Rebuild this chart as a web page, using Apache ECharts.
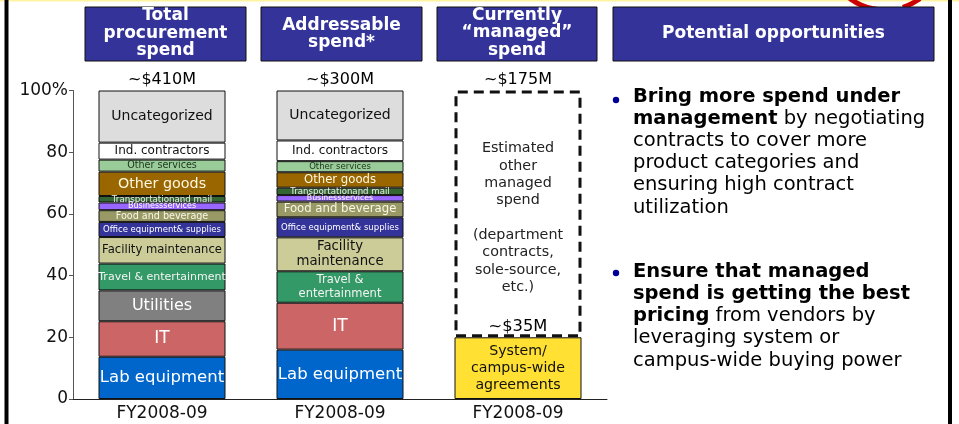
<!DOCTYPE html>
<html>
<head>
<meta charset="utf-8">
<script src="https://cdn.jsdelivr.net/npm/echarts@6/dist/echarts.min.js"></script>
<style>
  html, body { margin: 0; padding: 0; background: #fff; }
  #chart { width: 959px; height: 424px; }
</style>
</head>
<body>
<div id="chart"></div>
<script>
  // categories (one bar each) and the label under every bar
  const categories = ['Total procurement spend', 'Addressable spend*', 'Currently “managed” spend'];
  const yearLabels = ['FY2008-09', 'FY2008-09', 'FY2008-09'];
  const totals = ['~$410M', '~$300M', '~$175M'];

  // spend segments, bottom to top, in % of each bar
  const segNames = ['Lab equipment', 'IT', 'Utilities', 'Travel & entertainment', 'Facility maintenance',
    'Office equipment& supplies', 'Food and beverage', 'Businessservices', 'Transportationand mail',
    'Other goods', 'Other services', 'Ind. contractors', 'Uncategorized'];
  const totalSpend = [13.7, 11.5, 10.0, 8.7, 8.6, 4.9, 3.8, 2.5, 2.1, 7.9, 3.9, 5.5, 16.9];
  const addressableSpend = [16.0, 15.2, null, 10.2, 11.0, 6.5, 5.1, 2.1, 2.4, 5.0, 3.6, 6.7, 16.2];

  // managed bar
  const managedNames = ['System/\ncampus-wide\nagreements', 'Estimated\nother\nmanaged\nspend\n\n(department\ncontracts,\nsole-source,\netc.)'];
  const managedSpend = [20, 80];
  const managedAgreementsLabel = '~$35M';

  const yTicks = [0, 20, 40, 60, 80, 100];

  // look of each segment: fill, label colour, label size in bar 1 / bar 2
  const segStyle = {
    'Lab equipment': { fill: '#0066cc', ink: '#ffffff', size: [16.5, 16.5] },
    'IT': { fill: '#cc6666', ink: '#ffffff', size: [17, 17] },
    'Utilities': { fill: '#808080', ink: '#ffffff', size: [16, 16] },
    'Travel & entertainment': { fill: '#339966', ink: '#f4f4f4', size: [11, 11.5], text2: 'Travel &\nentertainment' },
    'Facility maintenance': { fill: '#cccc99', ink: '#111111', size: [11.6, 13.3], text2: 'Facility\nmaintenance' },
    'Office equipment& supplies': { fill: '#333399', ink: '#ffffff', size: [8.5, 8.5] },
    'Food and beverage': { fill: '#999966', ink: '#f8f8e8', size: [9.6, 11.7] },
    'Businessservices': { fill: '#9966ff', ink: '#ffffff', size: [8, 7.8] },
    'Transportationand mail': { fill: '#336633', ink: '#eeeeee', size: [8.7, 8.6] },
    'Other goods': { fill: '#996600', ink: '#fff8e0', size: [14.3, 11.7] },
    'Other services': { fill: '#99cc99', ink: '#203820', size: [9.6, 8.5] },
    'Ind. contractors': { fill: '#ffffff', ink: '#111111', size: [12, 12.2] },
    'Uncategorized': { fill: '#dddddd', ink: '#111111', size: [14, 14] }
  };

  const FONT = 'DejaVu Sans, Verdana, sans-serif';
  const chart = echarts.init(document.getElementById('chart'), null, { renderer: 'canvas' });

  const cell = (v, i, s, name) => {
    if (v == null) return '-';
    return {
      value: v,
      label: {
        show: true,
        position: 'inside',
        formatter: i === 1 && s.text2 ? s.text2 : name,
        color: s.ink,
        fontSize: s.size[i],
        lineHeight: s.size[i] * 1.15,
        fontFamily: FONT
      }
    };
  };

  const series = segNames.map((name, k) => {
    const s = segStyle[name];
    return {
      name: name,
      type: 'bar',
      stack: 'spend',
      barWidth: 127,
      itemStyle: { color: s.fill, borderColor: '#111', borderWidth: 1 },
      data: [cell(totalSpend[k], 0, s, name), cell(addressableSpend[k], 1, s, name), '-']
    };
  });

  series.push({
    name: 'System/campus-wide agreements',
    type: 'bar',
    stack: 'spend',
    barWidth: 127,
    itemStyle: { color: '#ffe033', borderColor: '#111', borderWidth: 1 },
    label: { show: true, position: 'inside', formatter: managedNames[0], color: '#111', fontSize: 14.2, lineHeight: 17, fontFamily: FONT },
    data: ['-', '-', managedSpend[0]]
  });
  series.push({
    name: 'Estimated other managed spend',
    type: 'bar',
    stack: 'spend',
    barWidth: 127,
    z: 1,
    itemStyle: { color: 'rgba(255,255,255,0)', borderColor: '#111', borderWidth: 3, borderType: [10, 6] },
    label: { show: true, position: 'inside', offset: [0, 4], formatter: managedNames[1], color: '#222', fontSize: 14.3, lineHeight: 17.3, fontFamily: FONT },
    data: ['-', '-', managedSpend[1]]
  });

  // totals above the bars
  series.push({
    type: 'scatter',
    symbolSize: 0,
    silent: true,
    itemStyle: { opacity: 1 },
    label: { show: true, position: 'top', distance: 3, formatter: p => totals[p.dataIndex], color: '#000', fontSize: 16, fontFamily: FONT },
    data: [100, 100, 100]
  });
  series.push({
    type: 'scatter',
    symbolSize: 0,
    silent: true,
    itemStyle: { opacity: 1 },
    label: { show: true, position: 'top', distance: 3, formatter: managedAgreementsLabel, color: '#000', fontSize: 16.3, fontFamily: FONT },
    data: ['-', '-', managedSpend[0]]
  });

  const header = (x, w, lines, cy) => [
    { type: 'rect', shape: { x: x, y: 7, width: w, height: 54 }, style: { fill: '#333399', stroke: '#111', lineWidth: 1 } },
    {
      type: 'text', x: x + w / 2, y: cy,
      style: { text: lines, fill: '#fff', font: 'bold 17px ' + FONT, align: 'center', verticalAlign: 'middle', lineHeight: 17.5 }
    }
  ];

  const bullet1 = '{b|Bring more spend under}\n{b|management}{r| by negotiating}\n{r|contracts to cover more}\n' +
    '{r|product categories and}\n{r|ensuring high contract}\n{r|utilization}';
  const bullet2 = '{b|Ensure that managed}\n{b|spend is getting the best}\n{b|pricing}{r| from vendors by}\n' +
    '{r|leveraging system or}\n{r|campus-wide buying power}';
  const rich = {
    b: { fontFamily: FONT, fontWeight: 'bold', fontSize: 19.5, lineHeight: 22.2, color: '#111' },
    r: { fontFamily: FONT, fontSize: 19.5, lineHeight: 22.2, color: '#111' }
  };

  const graphic = [
    { type: 'rect', shape: { x: 0, y: 0, width: 959, height: 1.5 }, style: { fill: '#fff3a0' } },
    { type: 'rect', shape: { x: 4.5, y: 0, width: 4, height: 424 }, style: { fill: '#000' } },
    { type: 'rect', shape: { x: 948, y: 0, width: 4, height: 424 }, style: { fill: '#000' } },
    { type: 'arc', shape: { cx: 885, cy: -50, r: 60, startAngle: 1.69, endAngle: 2.2 }, style: { stroke: '#cc0000', lineWidth: 5, fill: null } },
    { type: 'arc', shape: { cx: 885, cy: -50, r: 60, startAngle: 0.95, endAngle: 1.27 }, style: { stroke: '#cc0000', lineWidth: 5, fill: null } },
    ...header(85, 161, 'Total\nprocurement\nspend', 33.5),
    ...header(261, 161, 'Addressable\nspend*', 34),
    ...header(437, 160, 'Currently\n“managed”\nspend', 33),
    ...header(613, 321, 'Potential opportunities', 33.5),
    { type: 'circle', shape: { cx: 616, cy: 100, r: 3.2 }, style: { fill: '#000099' } },
    { type: 'text', x: 633, y: 85.5, style: { text: bullet1, rich: rich, align: 'left', verticalAlign: 'top' } },
    { type: 'circle', shape: { cx: 616, cy: 273, r: 3.2 }, style: { fill: '#000099' } },
    { type: 'text', x: 633, y: 260.6, style: { text: bullet2, rich: rich, align: 'left', verticalAlign: 'top' } }
  ];

  chart.setOption({
    animation: false,
    grid: { left: 73, right: 352, top: 90.5, bottom: 25 },
    xAxis: {
      type: 'category',
      data: categories,
      axisLine: { lineStyle: { color: '#222', width: 1 } },
      axisTick: { show: false },
      axisLabel: { formatter: (v, i) => yearLabels[i], color: '#111', fontSize: 17, fontFamily: FONT, margin: 6 }
    },
    yAxis: {
      type: 'value',
      min: yTicks[0],
      max: yTicks[yTicks.length - 1],
      interval: 20,
      splitLine: { show: false },
      axisLine: { show: true, lineStyle: { color: '#555', width: 1 } },
      axisTick: { show: true, length: 4, lineStyle: { color: '#555' } },
      axisLabel: { formatter: v => (v === 100 ? '100%' : String(v)), color: '#111', fontSize: 17, fontFamily: FONT, margin: 5 }
    },
    graphic: graphic,
    series: series
  });
</script>
</body>
</html>
